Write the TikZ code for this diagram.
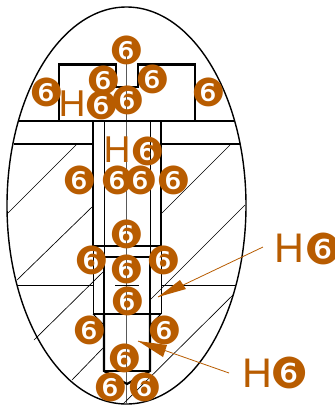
\documentclass[tikz,border=0pt]{standalone}
\usepackage{fontspec}
\setmainfont{DejaVu Sans}
\newfontfamily\hfont{Liberation Sans}
\definecolor{dimc}{HTML}{B85C00}
\tikzset{
  thick line/.style={line width=1.6pt,black},
  mid line/.style={line width=1.05pt,black},
  inner line/.style={line width=0.75pt,black},
  thin line/.style={line width=0.6pt,black},
  hatch line/.style={line width=0.5pt,black},
  centre line/.style={line width=0.55pt,black!65},
  sixnum/.style={text=dimc,inner sep=0pt,xshift=0.9pt,font=\fontsize{29}{29}\selectfont},
  bigsix/.style={text=dimc,inner sep=0pt,xshift=0.9pt,font=\fontsize{32}{32}\selectfont},
  hsmall/.style={text=dimc,inner sep=0pt,font=\hfont\fontsize{28}{28}\selectfont},
  hbig/.style={text=dimc,inner sep=0pt,font=\hfont\fontsize{31}{31}\selectfont},
  leader/.style={draw=dimc,line width=0.6pt},
}
\begin{document}
\begin{tikzpicture}[x=0.75pt,y=-0.75pt]
\useasboundingbox (0,0) rectangle (335,408);
\fill[white] (0,0) rectangle (335,408);
% outline
\draw[mid line] (126.5,205.5) ellipse [x radius=119.5,y radius=198.5];
% centre lines
\draw[centre line] (126.5,50) -- (126.5,404);
\draw[thin line] (17,285) -- (93,285);
\draw[thin line] (115,285) -- (139,285);
\draw[thin line] (161,285) -- (236,285);
% hatching
\draw[hatch line] (77,144) -- (8,213);
\draw[hatch line] (92,207) -- (17,280);
\draw[hatch line] (103,272) -- (34,340);
\draw[hatch line] (103,348) -- (72,380);
\draw[hatch line] (230,145) -- (162,213);
\draw[hatch line] (245,205) -- (150,300);
\draw[hatch line] (234,294) -- (123,404);
% screw head
\draw[thick line] (59,121) -- (59,64.5) -- (116,64.5) -- (116,87) -- (138,87) -- (138,64.5) -- (195,64.5) -- (195,121);
\draw[thick line] (19,121) -- (234,121);
\draw[thick line] (13.5,144) -- (93,144);
\draw[thick line] (161,144) -- (239.5,144);
% body
\draw[thick line] (93,121) -- (93,246) -- (161,246) -- (161,121);
\draw[inner line] (104,121) -- (104,257);
\draw[inner line] (150,121) -- (150,257);
\draw[inner line] (93,246) -- (93,314);
\draw[inner line] (161,246) -- (161,314);
\draw[inner line] (93,246) -- (104,257);
\draw[inner line] (161,246) -- (150,257);
\draw[thick line] (104,257) -- (150,257);
\draw[mid line] (104,257) -- (104,314);
\draw[mid line] (150,257) -- (150,314);
\draw[thick line] (93,314) -- (161,314);
\draw[inner line] (93,314) -- (104,325);
\draw[inner line] (161,314) -- (150,325);
\draw[thick line] (104,314) -- (104,371) -- (127,384) -- (150,371) -- (150,314);
\draw[thick line] (104,371) -- (150,371);
% sixes
\foreach \n/\x/\y in {a/126/50,b/103/80,c/152/79,d/46/92,e/208/92,f/127/100,g/101/105,h/147/151,
  i/79/180,j/117/180,k/140/180,l/173/180,m/126/234,n/91/260,o/163/260,p/126/269,q/127/301,
  r/89/330,s/164/330,t/124/358,u/110/387,v/144/387}
  \node[sixnum] (six\n) at (\x,\y) {❻};
\node[hsmall] (ha) at (72,104) {H};
\node[hsmall] (hb) at (117,150) {H};
\node[hbig] (hc) at (289,248) {H};
\node[bigsix] (sixw) at (322,249) {❻};
\node[hbig] (hd) at (257,373) {H};
\node[bigsix] (sixx) at (288,373) {❻};
% leaders
\coordinate (la) at (263,247);
\coordinate (ta) at (158,297);
\coordinate (lb) at (229,373);
\coordinate (tb) at (138,341);
\draw[leader] (la) -- (ta);
\fill[dimc] (ta) -- (180,280) -- (186,289) -- cycle;
\draw[leader] (lb) -- (tb);
\fill[dimc] (tb) -- (167,345) -- (163,357) -- cycle;
\end{tikzpicture}
\end{document}
